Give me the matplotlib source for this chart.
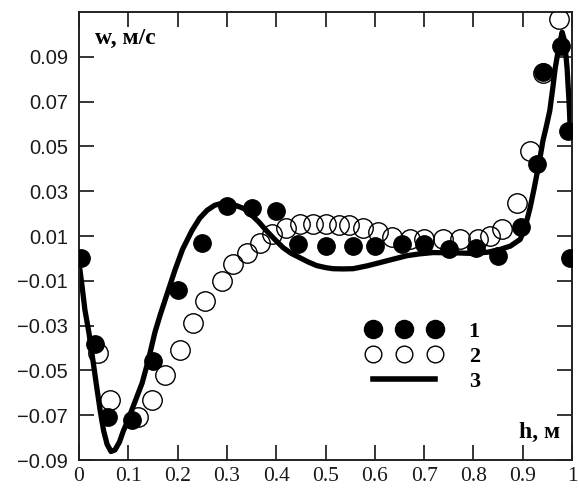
import numpy as np
import matplotlib
matplotlib.use('Agg')
import matplotlib.pyplot as plt
from matplotlib.lines import Line2D

# series 1 - filled circles
x1 = [0.005, 0.032, 0.059, 0.108, 0.150, 0.200, 0.250, 0.300, 0.350, 0.400,
      0.445, 0.500, 0.555, 0.600, 0.655, 0.700, 0.750, 0.805, 0.850, 0.897,
      0.929, 0.942, 0.978, 0.991, 0.996]
y1 = [0.000, -0.038, -0.071, -0.072, -0.046, -0.014, 0.007, 0.0235, 0.0226, 0.021,
      0.0066, 0.0057, 0.0057, 0.0057, 0.0066, 0.0066, 0.0042, 0.0046, 0.0012, 0.0142,
      0.0423, 0.083, 0.095, 0.057, 0.000]

# series 2 - open circles
x2 = [0.038, 0.063, 0.120, 0.148, 0.174, 0.205, 0.231, 0.255, 0.290, 0.313,
      0.340, 0.367, 0.392, 0.420, 0.448, 0.475, 0.502, 0.528, 0.548, 0.576,
      0.607, 0.635, 0.671, 0.700, 0.738, 0.773, 0.809, 0.834, 0.858, 0.888,
      0.915, 0.941, 0.973]
y2 = [-0.0424, -0.063, -0.071, -0.063, -0.052, -0.041, -0.029, -0.019, -0.010, -0.0023,
      0.0026, 0.007, 0.011, 0.0137, 0.0155, 0.0155, 0.0155, 0.015, 0.0148, 0.0137,
      0.012, 0.0095, 0.0088, 0.0088, 0.0088, 0.0088, 0.0088, 0.010, 0.0132, 0.0248,
      0.048, 0.0827, 0.107]

# series 3 - model curve
x3 = [0.0, 0.006, 0.012, 0.020, 0.026, 0.035, 0.043, 0.050, 0.057, 0.065,
      0.073, 0.082, 0.090, 0.097, 0.110, 0.128, 0.140, 0.154, 0.165, 0.180,
      0.195, 0.210, 0.229, 0.245, 0.260, 0.275, 0.290, 0.305, 0.320, 0.335,
      0.347, 0.365, 0.380, 0.397, 0.414, 0.430, 0.448, 0.465, 0.482, 0.500,
      0.515, 0.535, 0.556, 0.585, 0.610, 0.640, 0.665, 0.690, 0.718, 0.760,
      0.800, 0.830, 0.854, 0.875, 0.895, 0.905, 0.915, 0.923, 0.930, 0.936,
      0.941, 0.948, 0.955, 0.961, 0.966, 0.973, 0.980, 0.985, 0.990, 0.994,
      0.997]
y3 = [-0.002, -0.012, -0.023, -0.033, -0.042, -0.056, -0.068, -0.077, -0.083, -0.0862,
      -0.0855, -0.082, -0.077, -0.0735, -0.066, -0.0557, -0.046, -0.033, -0.025, -0.015,
      -0.005, 0.004, 0.0124, 0.018, 0.0215, 0.0237, 0.0246, 0.0245, 0.0235, 0.0222,
      0.020, 0.0162, 0.0124, 0.0085, 0.0048, 0.0023, 0.0003, -0.0016, -0.0032, -0.0041,
      -0.0046, -0.0047, -0.0046, -0.0033, -0.0019, -0.0002, 0.0012, 0.002, 0.0026, 0.0025,
      0.0022, 0.0028, 0.004, 0.0055, 0.0085, 0.014, 0.0226, 0.031, 0.039, 0.046,
      0.0525, 0.059, 0.066, 0.076, 0.085, 0.094, 0.101, 0.097, 0.085, 0.070,
      0.055]

xticks = np.round(np.arange(0, 1.01, 0.1), 1)
xticklabels = ['0', '0.1', '0.2', '0.3', '0.4', '0.5', '0.6', '0.7', '0.8', '0.9', '1']
yticks = np.round(np.arange(-0.09, 0.1, 0.02), 2)
yticklabels = ['\u2212%.2f' % -v if v < 0 else '%.2f' % v for v in yticks]

fig = plt.figure(figsize=(5.79, 4.92), dpi=100)
ax = fig.add_axes([79/579, 32/492, 493/579, 448/492])

ax.plot(x3, y3, color='black', lw=3.8, solid_joinstyle='round', solid_capstyle='butt', zorder=2)
ax.plot(x2, y2, 'o', ms=14, mfc='none', mec='black', mew=1.0, zorder=3)
ax.plot(x1, y1, 'o', ms=12.5, mfc='black', mec='black', zorder=4)

ax.set_xlim(0, 1)
ax.set_ylim(-0.09, 0.11)
ax.set_xticks(xticks)
ax.set_xticklabels(xticklabels, fontfamily='Liberation Serif', fontsize=15.5, color='#1a1a1a')
ax.set_yticks(yticks)
ax.set_yticklabels(yticklabels, fontfamily='Liberation Sans', fontsize=14.5, color='#1a1a1a')
ax.tick_params(direction='in', length=11, width=1.1, top=True, right=True, color='black')
ax.tick_params(axis='x', pad=5)
ax.tick_params(axis='y', pad=8)
for s in ax.spines.values():
    s.set_linewidth(1.4)
    s.set_color('#222222')

ax.text(0.033, 0.94, 'w, м/с', transform=ax.transAxes, fontfamily='Liberation Serif',
        fontweight='bold', fontsize=17, va='center', ha='left')
ax.text(0.975, 0.062, 'h, м', transform=ax.transAxes, fontfamily='Liberation Serif',
        fontweight='bold', fontsize=17, va='center', ha='right')

handles = [Line2D([], [], ls='none', marker='o', ms=13, mfc='black', mec='black'),
           Line2D([], [], ls='none', marker='o', ms=12, mfc='white', mec='black', mew=1.0),
           Line2D([], [], color='black', lw=4)]
ax.legend(handles, ['1', '2', '3'], numpoints=3, frameon=False, loc='upper left',
          bbox_to_anchor=(0.583, 0.31), borderpad=0, borderaxespad=0,
          handlelength=3.4, handletextpad=1.2, labelspacing=0.2,
          prop={'family': 'Liberation Serif', 'weight': 'bold', 'size': 16})

fig.savefig('out.png', dpi=100)
